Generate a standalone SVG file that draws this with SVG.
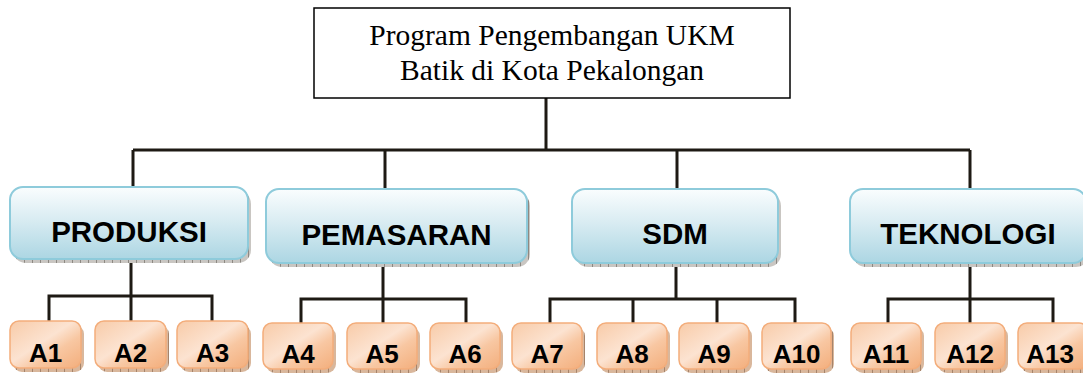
<svg xmlns="http://www.w3.org/2000/svg" width="1083" height="373" viewBox="0 0 1083 373">
  <defs>
    <linearGradient id="gBlue" x1="0" y1="0" x2="0" y2="1">
      <stop offset="0" stop-color="#fafdfe"/>
      <stop offset="0.45" stop-color="#d9ecf2"/>
      <stop offset="1" stop-color="#acd6e3"/>
    </linearGradient>
    <linearGradient id="gOrange" x1="0" y1="0" x2="1" y2="1">
      <stop offset="0" stop-color="#f8cba8"/>
      <stop offset="0.45" stop-color="#fce3d1"/>
      <stop offset="0.65" stop-color="#f8c7a2"/>
      <stop offset="1" stop-color="#f3ae7c"/>
    </linearGradient>
    <pattern id="ticks" width="8" height="8" patternUnits="userSpaceOnUse">
      <rect width="8" height="8" fill="#c9c6c2"/>
      <rect x="0" width="1" height="8" fill="#8d8983"/>
    </pattern>
    <pattern id="ticksO" width="8" height="8" patternUnits="userSpaceOnUse">
      <rect width="8" height="8" fill="#d9b79c"/>
      <rect x="0" width="1" height="8" fill="#a6846b"/>
    </pattern>
  </defs>
  <style>
    .root { fill: #ffffff; stroke: #000000; stroke-width: 1.5; }
    .root-text { font-family: "Liberation Serif", "Times New Roman", serif; font-size: 29.5px; fill: #000; text-anchor: middle; }
    .cat { fill: url(#gBlue); stroke: #8ecbdb; stroke-width: 2; }
    .cat-shadow { fill: url(#ticks); }
    .cat-text { font-family: "Liberation Sans", Arial, sans-serif; font-weight: bold; font-size: 29.5px; fill: #000; text-anchor: middle; }
    .item { fill: url(#gOrange); stroke: #f3ad7b; stroke-width: 1.5; }
    .item-shadow { fill: url(#ticksO); }
    .item-text { font-family: "Liberation Sans", Arial, sans-serif; font-weight: bold; font-size: 26px; fill: #000; text-anchor: middle; }
    .conn { fill: none; stroke: #1e1a14; stroke-width: 3; stroke-linejoin: miter; }
  </style>

  <rect width="1083" height="373" fill="#ffffff"/>

  <!-- connectors -->
  <g id="connectors" class="conn">
    <path d="M546 98 V150 M133 150 H970 M133 150 V187 M385 150 V189 M677 150 V189 M970 150 V189"/>
    <path d="M131 259 V321 M49 321 V296 H212 V321"/>
    <path d="M383 263 V323 M301 323 V299 H466 V323"/>
    <path d="M676 263 V299 M550 323 V299 H795 V323 M633 299 V323 M717 299 V323"/>
    <path d="M970 263 V323 M888 323 V299 H1053 V323"/>
  </g>

  <!-- root -->
  <g id="root">
    <rect class="root" x="314" y="8" width="476" height="90"/>
    <text class="root-text" x="552" y="45">Program Pengembangan UKM</text>
    <text class="root-text" x="552" y="80">Batik di Kota Pekalongan</text>
  </g>

  <!-- categories -->
  <g id="produksi">
    <rect class="cat-shadow" x="13" y="191" width="238" height="72" rx="13"/>
    <rect class="cat" x="10" y="187" width="238" height="72" rx="13"/>
    <text class="cat-text" x="129" y="242">PRODUKSI</text>
  </g>
  <g id="pemasaran">
    <rect class="cat-shadow" x="269" y="193" width="261" height="74" rx="13"/>
    <rect class="cat" x="266" y="189" width="261" height="74" rx="13"/>
    <text class="cat-text" x="396.5" y="245">PEMASARAN</text>
  </g>
  <g id="sdm">
    <rect class="cat-shadow" x="575" y="193" width="206" height="74" rx="13"/>
    <rect class="cat" x="572" y="189" width="206" height="74" rx="13"/>
    <text class="cat-text" x="675" y="244">SDM</text>
  </g>
  <g id="teknologi">
    <rect class="cat-shadow" x="853" y="193" width="236" height="74" rx="13"/>
    <rect class="cat" x="850" y="189" width="236" height="74" rx="13"/>
    <text class="cat-text" x="968" y="244">TEKNOLOGI</text>
  </g>

  <!-- items -->
  <g id="a1"><rect class="item-shadow" x="13" y="325" width="71" height="47" rx="9"/><rect class="item" x="10" y="321" width="71" height="47" rx="9"/><text class="item-text" x="45.5" y="362">A1</text></g>
  <g id="a2"><rect class="item-shadow" x="98" y="325" width="71" height="47" rx="9"/><rect class="item" x="95" y="321" width="71" height="47" rx="9"/><text class="item-text" x="130.5" y="362">A2</text></g>
  <g id="a3"><rect class="item-shadow" x="180" y="325" width="71" height="47" rx="9"/><rect class="item" x="177" y="321" width="71" height="47" rx="9"/><text class="item-text" x="212.5" y="362">A3</text></g>
  <g id="a4"><rect class="item-shadow" x="266" y="327" width="70" height="46" rx="9"/><rect class="item" x="263" y="323" width="70" height="46" rx="9"/><text class="item-text" x="298" y="363">A4</text></g>
  <g id="a5"><rect class="item-shadow" x="350" y="327" width="70" height="46" rx="9"/><rect class="item" x="347" y="323" width="70" height="46" rx="9"/><text class="item-text" x="382" y="363">A5</text></g>
  <g id="a6"><rect class="item-shadow" x="433" y="327" width="70" height="46" rx="9"/><rect class="item" x="430" y="323" width="70" height="46" rx="9"/><text class="item-text" x="465" y="363">A6</text></g>
  <g id="a7"><rect class="item-shadow" x="515" y="327" width="70" height="46" rx="9"/><rect class="item" x="512" y="323" width="70" height="46" rx="9"/><text class="item-text" x="547" y="363">A7</text></g>
  <g id="a8"><rect class="item-shadow" x="600" y="327" width="70" height="46" rx="9"/><rect class="item" x="597" y="323" width="70" height="46" rx="9"/><text class="item-text" x="632" y="363">A8</text></g>
  <g id="a9"><rect class="item-shadow" x="682" y="327" width="70" height="46" rx="9"/><rect class="item" x="679" y="323" width="70" height="46" rx="9"/><text class="item-text" x="714" y="363">A9</text></g>
  <g id="a10"><rect class="item-shadow" x="765" y="327" width="69" height="46" rx="9"/><rect class="item" x="762" y="323" width="69" height="46" rx="9"/><text class="item-text" x="796.5" y="363">A10</text></g>
  <g id="a11"><rect class="item-shadow" x="854" y="327" width="70" height="46" rx="9"/><rect class="item" x="851" y="323" width="70" height="46" rx="9"/><text class="item-text" x="886" y="363">A11</text></g>
  <g id="a12"><rect class="item-shadow" x="938" y="327" width="70" height="46" rx="9"/><rect class="item" x="935" y="323" width="70" height="46" rx="9"/><text class="item-text" x="970" y="363">A12</text></g>
  <g id="a13"><rect class="item-shadow" x="1021" y="327" width="70" height="46" rx="9"/><rect class="item" x="1018" y="323" width="70" height="46" rx="9"/><text class="item-text" x="1050" y="363">A13</text></g>
</svg>
